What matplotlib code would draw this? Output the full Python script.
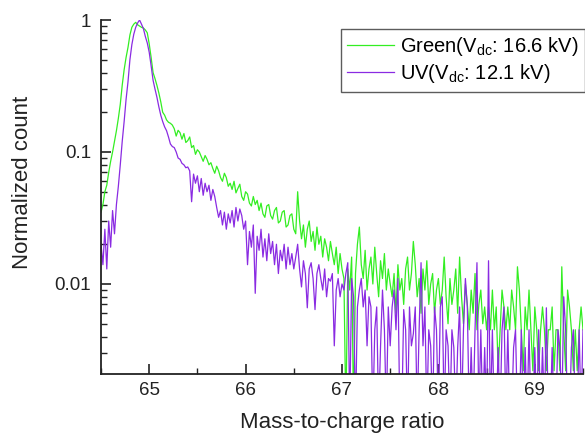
import numpy as np
import matplotlib
matplotlib.use("Agg")
import matplotlib.pyplot as plt
from matplotlib.ticker import FixedLocator, FixedFormatter, LogLocator, NullFormatter, MultipleLocator

plt.rcParams['font.family'] = ['Liberation Sans', 'DejaVu Sans']
plt.rcParams['mathtext.fontset'] = 'custom'
plt.rcParams['mathtext.rm'] = 'Liberation Sans'
plt.rcParams['mathtext.it'] = 'Liberation Sans'

# ---- data ----
x_start = 64.5
x_step = 0.02

green = [
    0.035, 0.04, 0.05, 0.056, 0.07, 0.085, 0.1, 0.12, 0.145, 0.18,
    0.23, 0.32, 0.42, 0.52, 0.62, 0.77, 0.88, 0.93, 0.96, 0.92,
    0.9, 0.88, 0.87, 0.84, 0.8, 0.66, 0.52, 0.4, 0.36, 0.32,
    0.28, 0.24, 0.2, 0.19, 0.175, 0.168, 0.165, 0.16,
    0.15, 0.132, 0.146, 0.14, 0.125, 0.138, 0.118, 0.122, 0.13, 0.108, 0.112, 0.096, 0.104,
    0.1, 0.092, 0.085, 0.094, 0.088, 0.08, 0.083, 0.075, 0.069, 0.078,
    0.072, 0.064, 0.06, 0.069, 0.064, 0.055, 0.058, 0.052, 0.06, 0.049,
    0.053, 0.057, 0.046, 0.043, 0.05, 0.048, 0.041, 0.039, 0.046, 0.04,
    0.043, 0.036, 0.041, 0.034, 0.032, 0.039, 0.04, 0.033, 0.031, 0.036,
    0.038, 0.029, 0.03, 0.035, 0.036, 0.027, 0.028, 0.033, 0.034, 0.026,
    0.024, 0.05, 0.03, 0.022, 0.028, 0.019, 0.026, 0.03, 0.021, 0.025,
    0.018, 0.027, 0.02, 0.023, 0.016, 0.022, 0.019, 0.015, 0.021, 0.017,
    0.014, 0.019, 0.012, 0.017, 0.013,
    0.011, 0.001, 0.013, 0.009, 0.016, 0.001, 0.012, 0.02, 0.027, 0.014,
    0.011, 0.018, 0.009, 0.013, 0.016, 0.01, 0.019, 0.012, 0.008, 0.015,
    0.011, 0.017, 0.009, 0.013, 0.01,
    0.008, 0.012, 0.006, 0.014, 0.009, 0.011, 0.007, 0.013, 0.016, 0.009,
    0.012, 0.021, 0.014, 0.008, 0.011, 0.006, 0.013, 0.009, 0.015, 0.007,
    0.01, 0.012, 0.006, 0.009, 0.011,
    0.007, 0.009, 0.016, 0.008, 0.005, 0.011, 0.007, 0.009, 0.013, 0.006,
    0.016, 0.008, 0.005, 0.01, 0.007, 0.0045, 0.009, 0.006, 0.012, 0.0045,
    0.007, 0.009, 0.005, 0.0067, 0.0045,
    0.0067, 0.0045, 0.009, 0.0045, 0.0067, 0.0022, 0.0045, 0.009, 0.0067, 0.0045,
    0.0067, 0.0045, 0.009, 0.0067, 0.0045, 0.0135, 0.009, 0.0045, 0.0022, 0.0067,
    0.0045, 0.009, 0.0045, 0.0022, 0.0067,
    0.0045, 0.0022, 0.0045, 0.0067, 0.0045, 0.0022, 0.0045, 0.0045, 0.0067, 0.0022,
    0.0045, 0.0045, 0.0022, 0.0135, 0.0045, 0.0022, 0.009, 0.0067, 0.0045, 0.0022,
    0.0045, 0.0022, 0.0045, 0.0067, 0.0045,
]

uv = [
    0.02, 0.014, 0.026, 0.013, 0.03, 0.019, 0.036, 0.024, 0.04, 0.055,
    0.08, 0.12, 0.17, 0.25, 0.34, 0.5, 0.65, 0.78, 0.88, 0.95,
    1.0, 0.93, 0.86, 0.75, 0.67, 0.57, 0.45, 0.35, 0.3, 0.26,
    0.22, 0.19, 0.17, 0.155, 0.145, 0.13, 0.115, 0.11, 0.108, 0.1,
    0.09, 0.088, 0.082, 0.08, 0.076, 0.077,
    0.072, 0.042, 0.068, 0.058, 0.066, 0.05, 0.063, 0.047, 0.058, 0.05,
    0.056, 0.043, 0.052, 0.046, 0.038,
    0.032, 0.036, 0.028, 0.035, 0.026, 0.034, 0.029, 0.036, 0.027, 0.038,
    0.03, 0.037, 0.033, 0.026, 0.03,
    0.014, 0.025, 0.019, 0.028, 0.0085, 0.023, 0.018, 0.026, 0.016, 0.022,
    0.015, 0.024, 0.017, 0.021, 0.014, 0.02, 0.012, 0.018, 0.015, 0.02,
    0.013, 0.019, 0.014, 0.017, 0.013,
    0.016, 0.02, 0.013, 0.0095, 0.015, 0.012, 0.0066, 0.013, 0.0145, 0.011,
    0.0064, 0.012, 0.014, 0.011, 0.009, 0.013, 0.008, 0.011, 0.0105, 0.012,
    0.0034, 0.009, 0.011, 0.008, 0.01,
    0.009, 0.012, 0.0145, 0.001, 0.011, 0.008, 0.001, 0.0067, 0.009, 0.011,
    0.0067, 0.009, 0.0034, 0.008, 0.0067, 0.001, 0.0045, 0.0067, 0.001, 0.0034,
    0.009, 0.0045, 0.001, 0.0067, 0.0034,
    0.0067, 0.009, 0.0045, 0.011, 0.001, 0.001, 0.0064, 0.0045, 0.001, 0.0067,
    0.0034, 0.0042, 0.0067, 0.001, 0.0045, 0.0145, 0.0034, 0.0067, 0.001, 0.0045,
    0.0034, 0.001, 0.0067, 0.0045, 0.001,
    0.0067, 0.008, 0.001, 0.0045, 0.0034, 0.001, 0.0045, 0.0033, 0.001, 0.0033,
    0.0067, 0.001, 0.0045, 0.011, 0.0067, 0.001, 0.0033, 0.001, 0.0045, 0.0145,
    0.001, 0.0045, 0.001, 0.0033, 0.001,
    0.015, 0.001, 0.0045, 0.001, 0.001, 0.0033, 0.001, 0.0045, 0.0067, 0.001,
    0.0045, 0.001, 0.001, 0.0033, 0.0045, 0.001, 0.001, 0.0045, 0.001, 0.0033,
    0.001, 0.0045, 0.001, 0.001, 0.0033,
    0.001, 0.0045, 0.001, 0.0033, 0.001, 0.0066, 0.001, 0.001, 0.0033, 0.001,
    0.001, 0.0045, 0.0033, 0.001, 0.008, 0.0045, 0.001, 0.001, 0.0033, 0.0045,
    0.001, 0.001, 0.0045, 0.001, 0.0045,
]

labels = [r'Green(V$_{\mathrm{dc}}$: 16.6 kV)', r'UV(V$_{\mathrm{dc}}$: 12.1 kV)']
colors = ['#33ee22', '#8a2be2']
x_ticks = [65, 66, 67, 68, 69]
y_ticks = [0.01, 0.1, 1]
y_tick_labels = ['0.01', '0.1', '1']

x_green = x_start + x_step * np.arange(len(green))
x_uv = x_start + x_step * np.arange(len(uv))

fig = plt.figure(figsize=(5.85, 4.37), dpi=100)
ax = fig.add_axes([101/585, 1 - 374/437, (583 - 101)/585, (374 - 20)/437])

ax.plot(x_green, green, color=colors[0], lw=0.9, label=labels[0])
ax.plot(x_uv, uv, color=colors[1], lw=0.9, label=labels[1])

ax.set_yscale('log')
ax.set_xlim(64.5, 69.5)
ax.set_ylim(0.00208, 1.0)

ax.xaxis.set_major_locator(FixedLocator(x_ticks))
ax.xaxis.set_minor_locator(MultipleLocator(0.5))
ax.yaxis.set_major_locator(FixedLocator(y_ticks))
ax.yaxis.set_major_formatter(FixedFormatter(y_tick_labels))
ax.yaxis.set_minor_locator(LogLocator(base=10, subs=np.arange(2, 10)))
ax.yaxis.set_minor_formatter(NullFormatter())

ax.tick_params(which='major', direction='in', length=7, width=1.2, labelsize=13.5, colors='#222222')
ax.tick_params(which='minor', direction='in', length=4, width=1.0, colors='#222222')
ax.tick_params(axis='y', which='major', pad=7)
ax.tick_params(axis='x', which='major', pad=6)

for s in ['top', 'right']:
    ax.spines[s].set_visible(False)
for s in ['left', 'bottom']:
    ax.spines[s].set_linewidth(1.3)
    ax.spines[s].set_color('#222222')

ax.set_xlabel('Mass-to-charge ratio', fontsize=16, color='#222222')
ax.set_ylabel('Normalized count', fontsize=16, color='#222222')
ax.xaxis.set_label_coords(0.5, -0.107)
ax.yaxis.set_label_coords(-0.141, 0.54)

leg = ax.legend(loc='upper right', bbox_to_anchor=(1.0, 1 - 29/437),
                bbox_transform=fig.transFigure, borderaxespad=0,
                fontsize=14.5, frameon=True, fancybox=False, handlelength=2.35,
                handletextpad=0.3, borderpad=0.3, labelspacing=0.22)
leg.get_frame().set_edgecolor('#333333')
leg.get_frame().set_linewidth(1.0)

fig.savefig('out.png', dpi=100)
